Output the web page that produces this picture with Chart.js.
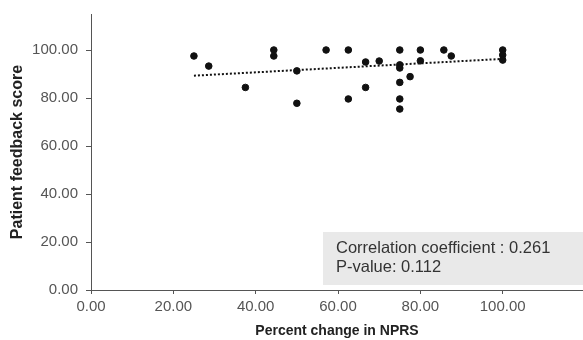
<!DOCTYPE html>
<html>
<head>
<meta charset="utf-8">
<script src="https://cdn.jsdelivr.net/npm/chart.js@4/dist/chart.umd.min.js"></script>
<style>
  html, body { margin: 0; padding: 0; background: #fff; }
  #wrap { width: 583px; height: 340px; }
</style>
</head>
<body>
<div id="wrap"><canvas id="chart"></canvas></div>
<script>
// Datos
const nprsChange = [25, 28.6, 37.5, 44.4, 44.4, 50, 50, 57.1, 62.5, 62.5, 66.7, 66.7, 70, 75, 75, 75, 75, 75, 75, 77.5, 80, 80, 85.7, 87.5, 100, 100, 100];
const feedbackScore = [97.5, 93.3, 84.4, 100, 97.5, 91.3, 77.8, 100, 100, 79.6, 95, 84.4, 95.4, 100, 93.8, 92.5, 86.5, 79.6, 75.4, 88.9, 100, 95.5, 100, 97.5, 100, 97.9, 95.8];
const trendX = [25, 100];
const trendY = [89.3, 96.3];
const tickValues = [0, 20, 40, 60, 80, 100];
const statLines = ['Correlation coefficient : 0.261', 'P-value: 0.112'];

const fontName = "'Liberation Sans', Arial, sans-serif";

// Cuadro con el coeficiente de correlacion
const statsBox = {
  id: 'statsBox',
  beforeDatasetsDraw(chart) {
    const ctx = chart.ctx;
    ctx.save();
    ctx.fillStyle = '#e9e9e9';
    ctx.fillRect(323, 232, 260, 53);
    ctx.fillStyle = '#333';
    ctx.font = '16.5px ' + fontName;
    ctx.textBaseline = 'middle';
    ctx.fillText(statLines[0], 336, 248);
    ctx.fillText(statLines[1], 336, 267);
    ctx.restore();
  }
};

const setTicks = scale => { scale.ticks = tickValues.map(v => ({ value: v })); };

const config = {
  type: 'scatter',
  data: {
    datasets: [
      {
        label: 'Pacientes',
        data: nprsChange.map((x, i) => ({ x: x, y: feedbackScore[i] })),
        backgroundColor: '#111',
        borderColor: '#111',
        pointRadius: 3.3,
        pointHoverRadius: 3.3
      },
      {
        label: 'Tendencia',
        type: 'line',
        data: trendX.map((x, i) => ({ x: x, y: trendY[i] })),
        borderColor: '#111',
        borderWidth: 2,
        borderDash: [2, 2],
        pointRadius: 0,
        fill: false
      }
    ]
  },
  options: {
    responsive: true,
    maintainAspectRatio: false,
    animation: false,
    layout: { autoPadding: false, padding: { top: 14, right: 0, left: 0, bottom: 0 } },
    plugins: {
      legend: { display: false },
      tooltip: { enabled: false }
    },
    scales: {
      x: {
        type: 'linear',
        min: 0,
        max: 119.5,
        afterBuildTicks: setTicks,
        afterFit: scale => { scale.height = 50; scale.paddingRight = 0; },
        grid: { drawOnChartArea: false, tickLength: 4, color: '#555' },
        border: { color: '#555', width: 1 },
        ticks: {
          color: '#555',
          font: { family: fontName, size: 15 },
          padding: 4,
          callback: v => Number(v).toFixed(2)
        },
        title: {
          display: true,
          text: 'Percent change in NPRS',
          color: '#222',
          font: { family: fontName, size: 14, weight: 'bold' },
          padding: { top: 3, bottom: 0 }
        }
      },
      y: {
        min: 0,
        max: 115,
        afterBuildTicks: setTicks,
        afterFit: scale => { scale.width = 91; scale.paddingTop = 0; },
        grid: { drawOnChartArea: false, tickLength: 5, color: '#555' },
        border: { color: '#555', width: 1 },
        ticks: {
          color: '#555',
          font: { family: fontName, size: 15 },
          padding: 8,
          callback: v => Number(v).toFixed(2)
        },
        title: {
          display: true,
          text: 'Patient feedback score',
          color: '#222',
          font: { family: fontName, size: 16, weight: 'bold' },
          padding: { top: 8, bottom: 4 }
        }
      }
    }
  },
  plugins: [statsBox]
};

const ctx = document.getElementById('chart').getContext('2d');
const myChart = new Chart(ctx, config);
</script>
</body>
</html>
